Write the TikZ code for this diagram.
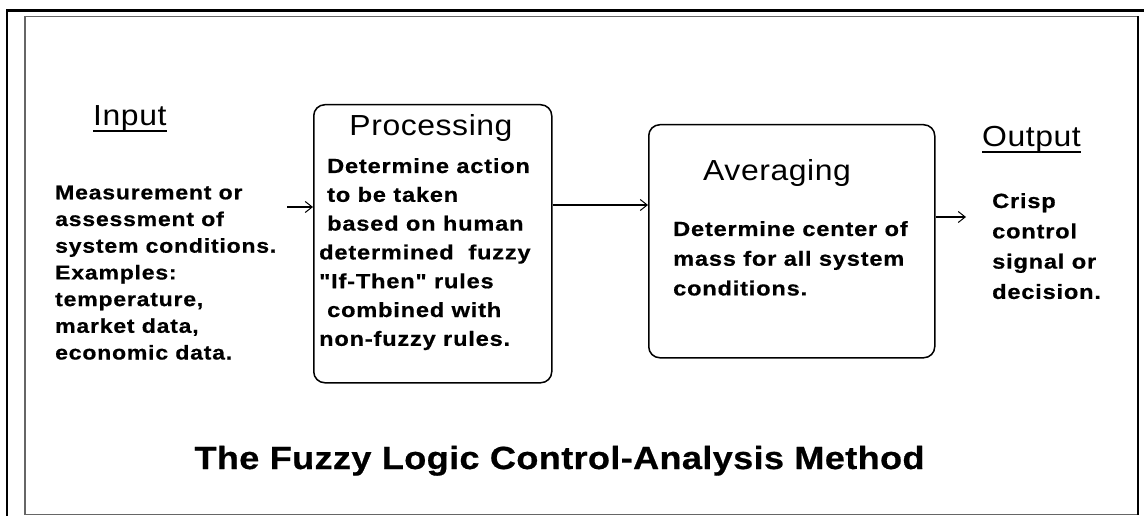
\documentclass[tikz,border=0pt]{standalone}
\usepackage{fontspec}
\setmainfont{Liberation Sans}
% wide, slightly tracked sans used for the running labels
\newfontfamily\wfont[FakeStretch=1.15,LetterSpace=4,BoldFeatures={FakeBold=0.6}]{Liberation Sans}
% heading and caption faces
\newfontfamily\hfont[FakeStretch=1.1,LetterSpace=2]{Liberation Sans}
\newfontfamily\cfont[FakeStretch=1.13,LetterSpace=1,BoldFeatures={FakeBold=0.6}]{Liberation Sans}
\usetikzlibrary{arrows.meta}

\tikzset{
  body/.style={font=\wfont\bfseries\fontsize{20.5}{24}\selectfont, inner sep=0pt, anchor=base west},
  inbody/.style={font=\wfont\bfseries\fontsize{20}{24}\selectfont, inner sep=0pt, anchor=base west},
  head/.style={font=\hfont\fontsize{29}{32}\selectfont, inner sep=0pt, anchor=base west},
  titletext/.style={font=\cfont\bfseries\fontsize{32}{36}\selectfont, inner sep=0pt, anchor=base},
  block/.style={draw, line width=1.5pt, rounded corners=11pt, inner sep=0pt, anchor=north west},
  flow/.style={line width=2pt, -{Straight Barb[length=7pt,width=11pt,line width=1pt]}},
  uline/.style={line width=2pt},
  frameouter/.style={line width=2.5pt, black},
  frameinner/.style={line width=1.6pt, black!60},
}

\begin{document}
\begin{tikzpicture}[x=1pt,y=-1pt]
  \useasboundingbox[fill=white] (0,0) rectangle (1144,516);

  % frame
  \draw[frameouter] (7,516) -- (7,10.5) -- (1144,10.5);
  \draw[frameinner] (25,514.5) -- (25,16.5) -- (1138,16.5);
  \draw[frameinner] (25,514.5) -- (1138,514.5);
  \draw[line width=2pt] (1138,16.5) -- (1138,514.5);

  % blocks
  \node[block, minimum width=238pt, minimum height=278pt] (proc) at (313,104) {};
  \node[block, minimum width=286pt, minimum height=233pt] (avg) at (648,124) {};

  % input column
  \node[head] (inhead) at (93,126) {Input};
  \draw[uline] ([yshift=-5.5pt]inhead.base west) -- ([yshift=-5.5pt]inhead.base east);
  \foreach \txt [count=\i] in {{Measurement or},{assessment of},{system conditions.},{Examples:},{temperature,},{market data,},{economic data.}}
    \node[inbody, name=in\i] at (55,{199.3+26.7*(\i-1)}) {\txt};

  % processing block
  \node[head, anchor=base] (prochead) at (431,136) {Processing};
  \foreach \xx/\txt [count=\i] in {327/{Determine action},327/{to be taken},327/{based on human},319/{determined\ \ fuzzy},319/{"If-Then" rules},327/{combined with},319/{non-fuzzy rules.}}
    \node[body, name=pr\i] at (\xx,{173+28.8*(\i-1)}) {\txt};

  % averaging block
  \node[head] (avghead) at (703,181) {Averaging};
  \foreach \txt [count=\i] in {{Determine center of},{mass for all system},{conditions.}}
    \node[body, name=av\i] at (673,{236+29.7*(\i-1)}) {\txt};

  % output column
  \node[head] (outhead) at (982,147) {Output};
  \draw[uline] ([yshift=-5.5pt]outhead.base west) -- ([yshift=-5.5pt]outhead.base east);
  \foreach \txt [count=\i] in {{Crisp},{control},{signal or},{decision.}}
    \node[body, name=out\i] at (992,{208+30.3*(\i-1)}) {\txt};

  % connectors
  \coordinate (inStart) at (287,207);
  \coordinate (midLevel) at (600,205);
  \coordinate (outEnd) at (966,217);
  \draw[flow] (inStart) -- (inStart -| proc.west);
  \draw[flow] (midLevel -| proc.east) -- (midLevel -| avg.west);
  \draw[flow] (outEnd -| avg.east) -- (outEnd);

  % caption
  \node[titletext] (caption) at (559.5,469) {The Fuzzy Logic Control-Analysis Method};
\end{tikzpicture}
\end{document}
